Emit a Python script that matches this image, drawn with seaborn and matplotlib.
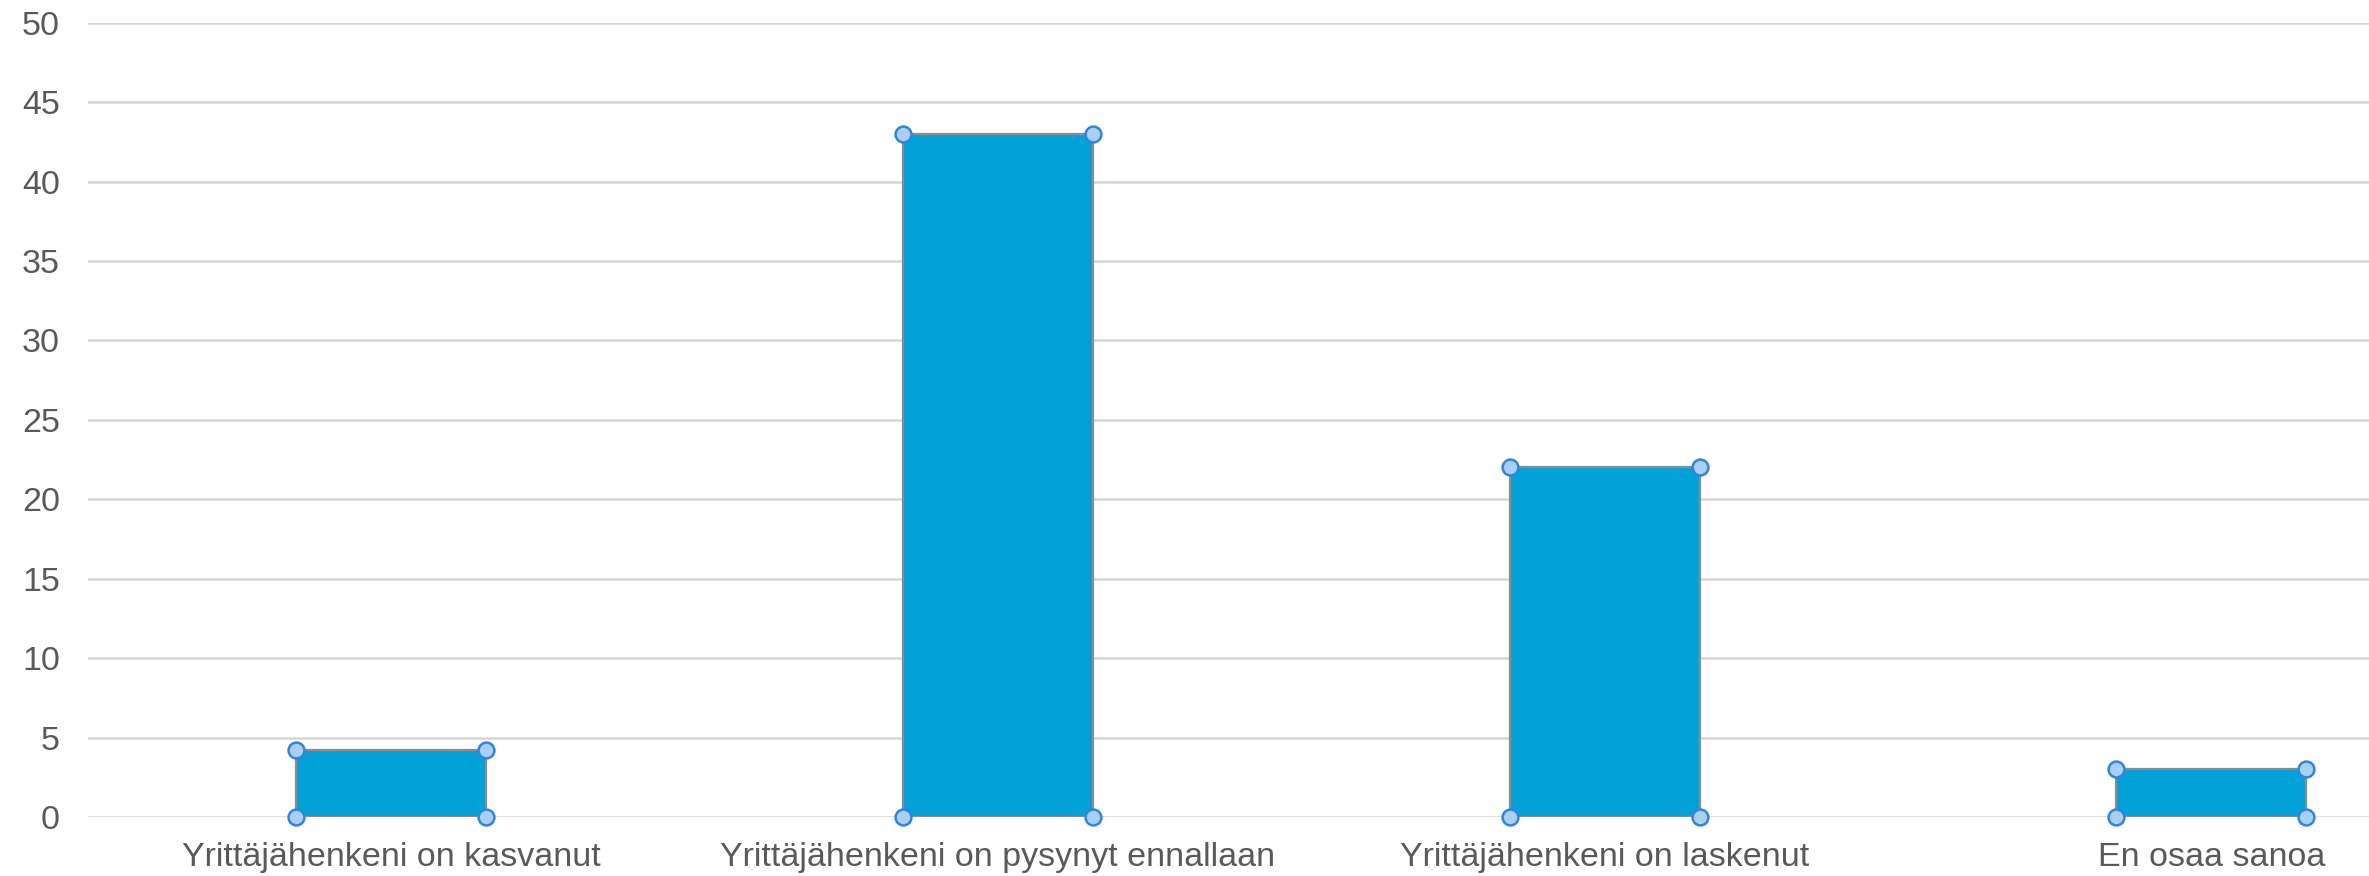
import matplotlib
matplotlib.use("Agg")
import matplotlib.pyplot as plt
import seaborn as sns
import pandas as pd

# ---------------- DATA ----------------
categories = ["Yrittäjähenkeni on kasvanut",
              "Yrittäjähenkeni on pysynyt ennallaan",
              "Yrittäjähenkeni on laskenut",
              "En osaa sanoa"]
values = [4.2, 43, 22, 3]

df = pd.DataFrame({"cat": categories, "val": values})

# ---------------- STYLE ----------------
sns.set_style("white")
plt.rcParams['font.family'] = ['Liberation Sans', 'DejaVu Sans']

fig = plt.figure(figsize=(23.69, 8.76), dpi=100)
ax = fig.add_axes([0.0371, 0.0674, 0.9629, 0.9067])

sns.barplot(x="cat", y="val", data=df, ax=ax, color="#02A2D9",
            width=0.313, edgecolor="#8C8C8C", linewidth=1.6, saturation=1)

# selection handles at bar corners
for p in ax.patches:
    x0, w, h = p.get_x(), p.get_width(), p.get_height()
    xs = [x0, x0 + w, x0, x0 + w]
    ys = [0, 0, h, h]
    ax.scatter(xs, ys, s=130, facecolor="#A9CFF2", edgecolor="#2E86DE",
               linewidth=1.8, zorder=5, clip_on=False)

ax.set_ylim(0, 50)
ax.set_xlim(-0.5, 3.26)
ax.set_yticks(range(0, 51, 5))
ax.yaxis.grid(True, color="#D6D6D6", linewidth=1.8)
ax.set_axisbelow(True)
for s in ax.spines.values():
    s.set_visible(False)

ax.set_xlabel("")
ax.set_ylabel("")
ax.tick_params(axis="both", length=0, labelsize=24.5, colors="#595959")
ax.tick_params(axis="y", pad=20)
ax.tick_params(axis="x", pad=18)

fig.savefig("out.png", dpi=100)
